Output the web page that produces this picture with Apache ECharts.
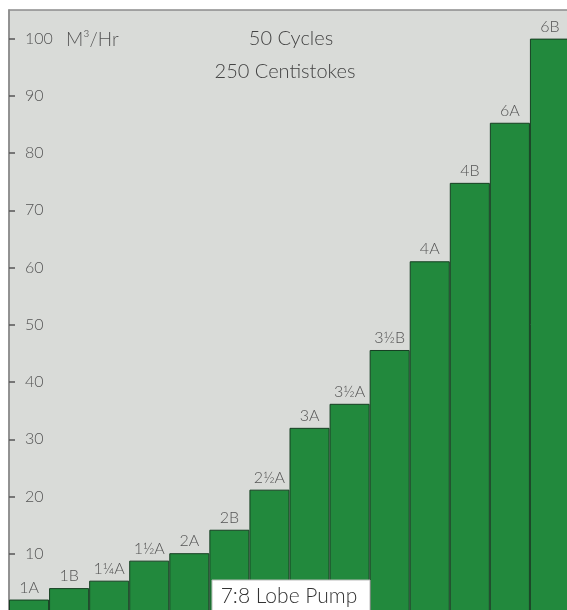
<!DOCTYPE html>
<html>
<head>
<meta charset="utf-8">
<script src="https://cdn.jsdelivr.net/npm/echarts@6/dist/echarts.min.js"></script>
<style>
html,body{margin:0;padding:0;background:#fff;}
#chart{width:567px;height:610px;}
</style>
</head>
<body>
<div id="chart"></div>
<script>
const categories = ['1A','1B','1¼A','1½A','2A','2B','2½A','3A','3½A','3½B','4A','4B','6A','6B'];
const flowValues = [2, 4, 5.3, 8.8, 10.1, 14.2, 21.2, 32, 36.2, 45.6, 61.1, 74.8, 85.3, 100];
const yTicks = [10, 20, 30, 40, 50, 60, 70, 80, 90, 100];
const unitLabel = 'M³/Hr';
const titleLines = ['50 Cycles', '250 Centistokes'];
const footLabel = '7:8 Lobe Pump';

const chart = echarts.init(document.getElementById('chart'));
const font = 'Lato, "Open Sans", sans-serif';
chart.setOption({
  backgroundColor: '#ffffff',
  animation: false,
  grid: {
    left: 9, top: 10, width: 561, height: 601,
    outerBoundsMode: 'none', containLabel: false,
    show: true, backgroundColor: '#d9dbd8', borderColor: '#8c8c8c', borderWidth: 1.5
  },
  xAxis: {
    type: 'category', data: categories,
    axisLine: {show: false}, axisTick: {show: false}, axisLabel: {show: false}
  },
  yAxis: {
    type: 'value', min: 0, max: 105,
    splitLine: {show: false},
    axisLine: {show: true, lineStyle: {color: '#8c8c8c', width: 1.5}},
    axisTick: {show: true, inside: true, length: 6, customValues: yTicks, lineStyle: {color: '#555', width: 1.5}},
    axisLabel: {show: true, inside: true, margin: 16, customValues: yTicks,
      color: '#555', fontSize: 16, fontFamily: font, fontWeight: 300}
  },
  series: [{
    type: 'bar', data: flowValues, barCategoryGap: 0,
    itemStyle: {color: '#22893d', borderColor: '#163f22', borderWidth: 1},
    label: {show: true, position: 'top', distance: 4, color: '#555',
      fontSize: 16, fontFamily: font, fontWeight: 300,
      formatter: p => categories[p.dataIndex]}
  }],
  graphic: [
    {type: 'text', z: 100, style: {text: unitLabel, x: 66, y: 40, verticalAlign: 'middle', fill: '#555', font: '300 19px ' + font}},
    {type: 'text', z: 100, style: {text: titleLines[0], x: 291, y: 39, align: 'center', verticalAlign: 'middle', fill: '#444', font: '300 20px ' + font}},
    {type: 'text', z: 100, style: {text: titleLines[1], x: 285, y: 72, align: 'center', verticalAlign: 'middle', fill: '#444', font: '300 20px ' + font}},
    {type: 'rect', z: 100, shape: {x: 212, y: 580, width: 158, height: 32}, style: {fill: '#ffffff', stroke: '#bbbbbb', lineWidth: 1}},
    {type: 'text', z: 101, style: {text: footLabel, x: 289, y: 596, align: 'center', verticalAlign: 'middle', fill: '#333', font: '300 21px ' + font}}
  ]
});
</script>
</body>
</html>
